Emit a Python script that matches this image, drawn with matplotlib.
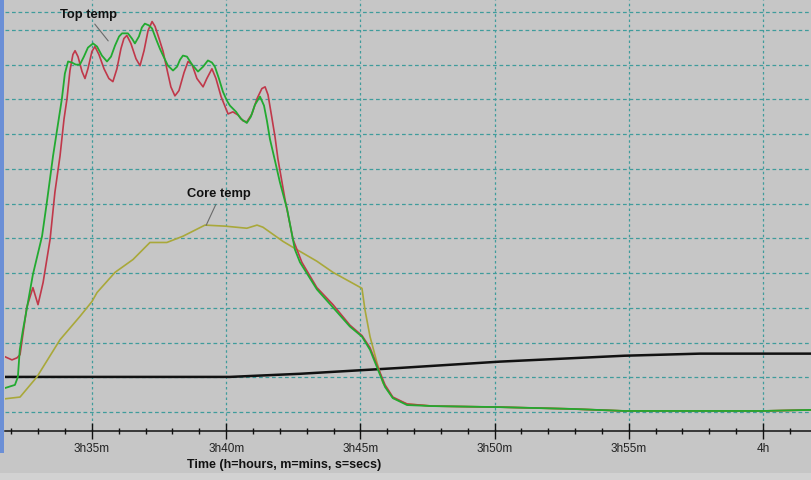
import matplotlib
matplotlib.use("Agg")
import matplotlib.pyplot as plt
from matplotlib.patches import Rectangle
from matplotlib.ticker import FixedLocator, MultipleLocator

# ---- data (time in minutes after 3h00, temperature in chart units) ----
top_red_t = [31.76, 32.02, 32.21, 32.32, 32.57, 32.80, 32.99, 33.18, 33.44, 33.62,
             33.81, 33.96, 34.07, 34.18, 34.29, 34.37, 34.48, 34.63, 34.74, 34.85,
             35.00, 35.11, 35.26, 35.45, 35.63, 35.78, 35.93, 36.08, 36.19, 36.30,
             36.45, 36.64, 36.79, 36.94, 37.09, 37.24, 37.35, 37.50, 37.65, 37.79,
             37.94, 38.09, 38.24, 38.43, 38.58, 38.73, 38.91, 39.14, 39.28, 39.47,
             39.62, 39.81, 40.07, 40.25, 40.44, 40.63, 40.77, 40.96, 41.15, 41.33,
             41.45, 41.56, 41.71, 41.82, 41.93, 42.19, 42.49, 42.82, 43.38, 43.98,
             44.61, 45.06, 45.36, 45.66, 45.92, 46.21, 46.74, 47.70, 50.20, 52.81,
             54.84, 57.65, 60.00, 61.79]
top_red_v = [15.9, 15.0, 15.6, 16.5, 30.1, 35.8, 30.9, 37.3, 49.7, 63.3,
             73.7, 84.4, 90.2, 98.3, 102.9, 104.0, 102.3, 98.0, 96.0, 98.8,
             103.8, 105.2, 102.9, 98.8, 96.0, 95.1, 98.8, 104.6, 107.5, 108.4,
             106.1, 101.7, 99.7, 104.0, 109.8, 112.4, 111.0, 107.5, 103.8, 98.8,
             93.6, 91.0, 92.5, 97.7, 100.9, 100.0, 96.0, 93.6, 96.0, 98.8,
             96.0, 90.8, 85.8, 86.4, 85.5, 83.8, 83.5, 85.8, 90.2, 93.1,
             93.6, 91.3, 84.4, 79.2, 72.8, 61.3, 49.7, 43.1, 35.8, 30.9,
             25.0, 22.0, 18.5, 12.7, 7.8, 4.3, 2.3, 1.7, 1.4, 0.9,
             0.3, 0.3, 0.3, 0.6]

top_green_t = [31.76, 32.13, 32.24, 32.31, 32.43, 32.50, 32.80, 33.14, 33.32, 33.55,
               33.88, 33.99, 34.11, 34.25, 34.40, 34.55, 34.70, 34.85, 35.04, 35.19,
               35.37, 35.56, 35.71, 35.86, 36.01, 36.12, 36.34, 36.49, 36.60, 36.75,
               36.86, 36.97, 37.12, 37.24, 37.38, 37.53, 37.65, 37.83, 38.02, 38.17,
               38.28, 38.39, 38.54, 38.73, 38.95, 39.14, 39.32, 39.47, 39.58, 39.73,
               39.88, 40.03, 40.14, 40.37, 40.55, 40.77, 40.92, 41.07, 41.26, 41.41,
               41.52, 41.63, 41.82, 42.00, 42.27, 42.56, 42.75, 43.38, 43.98, 44.61,
               45.06, 45.36, 45.66, 45.92, 46.21, 46.74, 47.70, 50.20, 52.81, 54.84,
               57.65, 60.00, 61.79]
top_green_v = [6.9, 7.8, 10.1, 17.9, 23.7, 26.6, 39.6, 50.6, 60.4, 73.7,
               90.2, 97.4, 100.9, 100.6, 100.0, 100.0, 102.3, 104.9, 106.1, 105.2,
               102.6, 100.9, 102.3, 105.5, 108.1, 109.0, 109.0, 107.5, 106.1, 108.1,
               110.7, 111.8, 111.3, 110.4, 107.5, 104.6, 102.6, 99.7, 98.3, 99.4,
               101.4, 102.6, 102.3, 100.0, 98.0, 99.4, 101.2, 100.6, 99.4, 96.0,
               92.2, 89.6, 88.2, 86.4, 84.4, 83.2, 85.0, 88.4, 90.8, 88.2,
               83.8, 78.6, 72.3, 66.2, 58.4, 46.8, 43.1, 35.3, 30.1, 24.6,
               21.7, 17.9, 12.1, 7.2, 4.0, 2.0, 1.7, 1.4, 0.9, 0.3,
               0.3, 0.3, 0.6]

core_t = [31.76, 32.32, 32.95, 33.81, 34.55, 35.00, 35.19, 35.86, 36.53, 37.16,
          37.79, 38.39, 39.21, 39.96, 40.77, 41.15, 41.37, 42.12, 42.49, 43.38,
          43.98, 45.06, 45.17, 45.36, 45.62, 45.84, 46.21, 46.74, 47.70, 50.20,
          52.81, 54.84, 57.65, 60.00, 61.79]
core_v = [3.8, 4.3, 10.1, 20.8, 27.5, 31.8, 34.4, 40.2, 43.9, 48.8,
          48.8, 50.6, 53.8, 53.5, 52.9, 53.8, 53.2, 49.1, 47.4, 43.4,
          40.2, 35.6, 29.5, 21.7, 14.2, 8.4, 4.0, 2.3, 1.7, 1.4,
          0.9, 0.3, 0.3, 0.3, 0.6]

base_t = [31.76, 40.14, 42.75, 46.50, 50.20, 54.84, 57.65, 61.79]
base_v = [10.1, 10.1, 11.0, 12.7, 14.5, 16.2, 16.8, 16.8]

major_ticks = [35, 40, 45, 50, 55, 60]
tick_labels = ["3h35m", "3h40m", "3h45m", "3h50m", "3h55m", "4h"]
h_grid = [0, 10, 20, 30, 40, 50, 60, 70, 80, 90, 100, 110, 115.2]

label_top = "Top temp"
label_core = "Core temp"
xlabel = "Time (h=hours, m=mins, s=secs)"

# ---- figure ----
BG = "#c6c6c6"
GRID = "#3f9c9c"
W, H = 811, 480
fig = plt.figure(figsize=(W / 100, H / 100), dpi=100, facecolor=BG)
ax = fig.add_axes([5 / W, (H - 431) / H, (W - 5) / W, 431 / H])
ax.set_facecolor(BG)

ax.set_xlim(31.76, 61.79)
ax.set_ylim(-5.47, 118.6)

# grid
ax.yaxis.set_major_locator(FixedLocator(h_grid))
ax.tick_params(axis="y", left=False, labelleft=False)
for y in h_grid:
    ax.axhline(y, color=GRID, lw=0.9, ls=(0, (3.0, 2.2)), zorder=1)
for x in major_ticks:
    ax.axvline(x, color=GRID, lw=0.9, ls=(0, (2.0, 2.2)), zorder=1)

# curves
ax.plot(base_t, base_v, color="#111111", lw=1.8, zorder=3, solid_capstyle="butt")
ax.plot(core_t, core_v, color="#a9a83a", lw=1.2, zorder=4)
ax.plot(top_red_t, top_red_v, color="#c0384a", lw=1.2, zorder=5, solid_joinstyle="round")
ax.plot(top_green_t, top_green_v, color="#22aa30", lw=1.3, zorder=6, solid_joinstyle="round")

# annotations
ax.text(33.81, 114.3, label_top, fontsize=9.3, fontweight="bold", family="Liberation Sans",
        color="#111111", ha="left", va="center", zorder=8)
ax.annotate("", xy=(35.67, 106.2), xytext=(35.04, 112.3),
            arrowprops=dict(arrowstyle="-", color="#6a6a6a", lw=0.8), zorder=7)
ax.text(38.54, 62.8, label_core, fontsize=9.3, fontweight="bold", family="Liberation Sans",
        color="#111111", ha="left", va="center", zorder=8)
ax.annotate("", xy=(39.21, 53.0), xytext=(39.66, 60.5),
            arrowprops=dict(arrowstyle="-", color="#6a6a6a", lw=0.8), zorder=7)

# x axis
for s in ["top", "left", "right"]:
    ax.spines[s].set_visible(False)
ax.spines["bottom"].set_color("#111111")
ax.spines["bottom"].set_linewidth(1.1)
ax.xaxis.set_major_locator(FixedLocator(major_ticks))
ax.xaxis.set_minor_locator(MultipleLocator(1))
ax.set_xticklabels(tick_labels)
ax.tick_params(axis="x", which="major", direction="inout", length=11, width=1.0,
               color="#111111", pad=3, labelsize=8.5, labelcolor="#222222")
ax.tick_params(axis="x", which="minor", direction="inout", length=5, width=1.0,
               color="#111111")
for lab in ax.get_xticklabels():
    lab.set_family("Liberation Sans")

fig.text(284 / W, 1 - 465 / H, xlabel, fontsize=9, fontweight="bold",
         family="Liberation Sans", color="#111111", ha="center", va="center")

# left blue frame strip and light bottom strip
fig.patches.append(Rectangle((0, 27 / H), 4 / W, 1 - 27 / H, transform=fig.transFigure,
                             facecolor="#6b8fd6", edgecolor="none", zorder=0))
fig.patches.append(Rectangle((0, 0), 1, 7 / H, transform=fig.transFigure,
                             facecolor="#d2d2d2", edgecolor="none", zorder=0))

fig.savefig("out.png", dpi=100, facecolor=BG)
